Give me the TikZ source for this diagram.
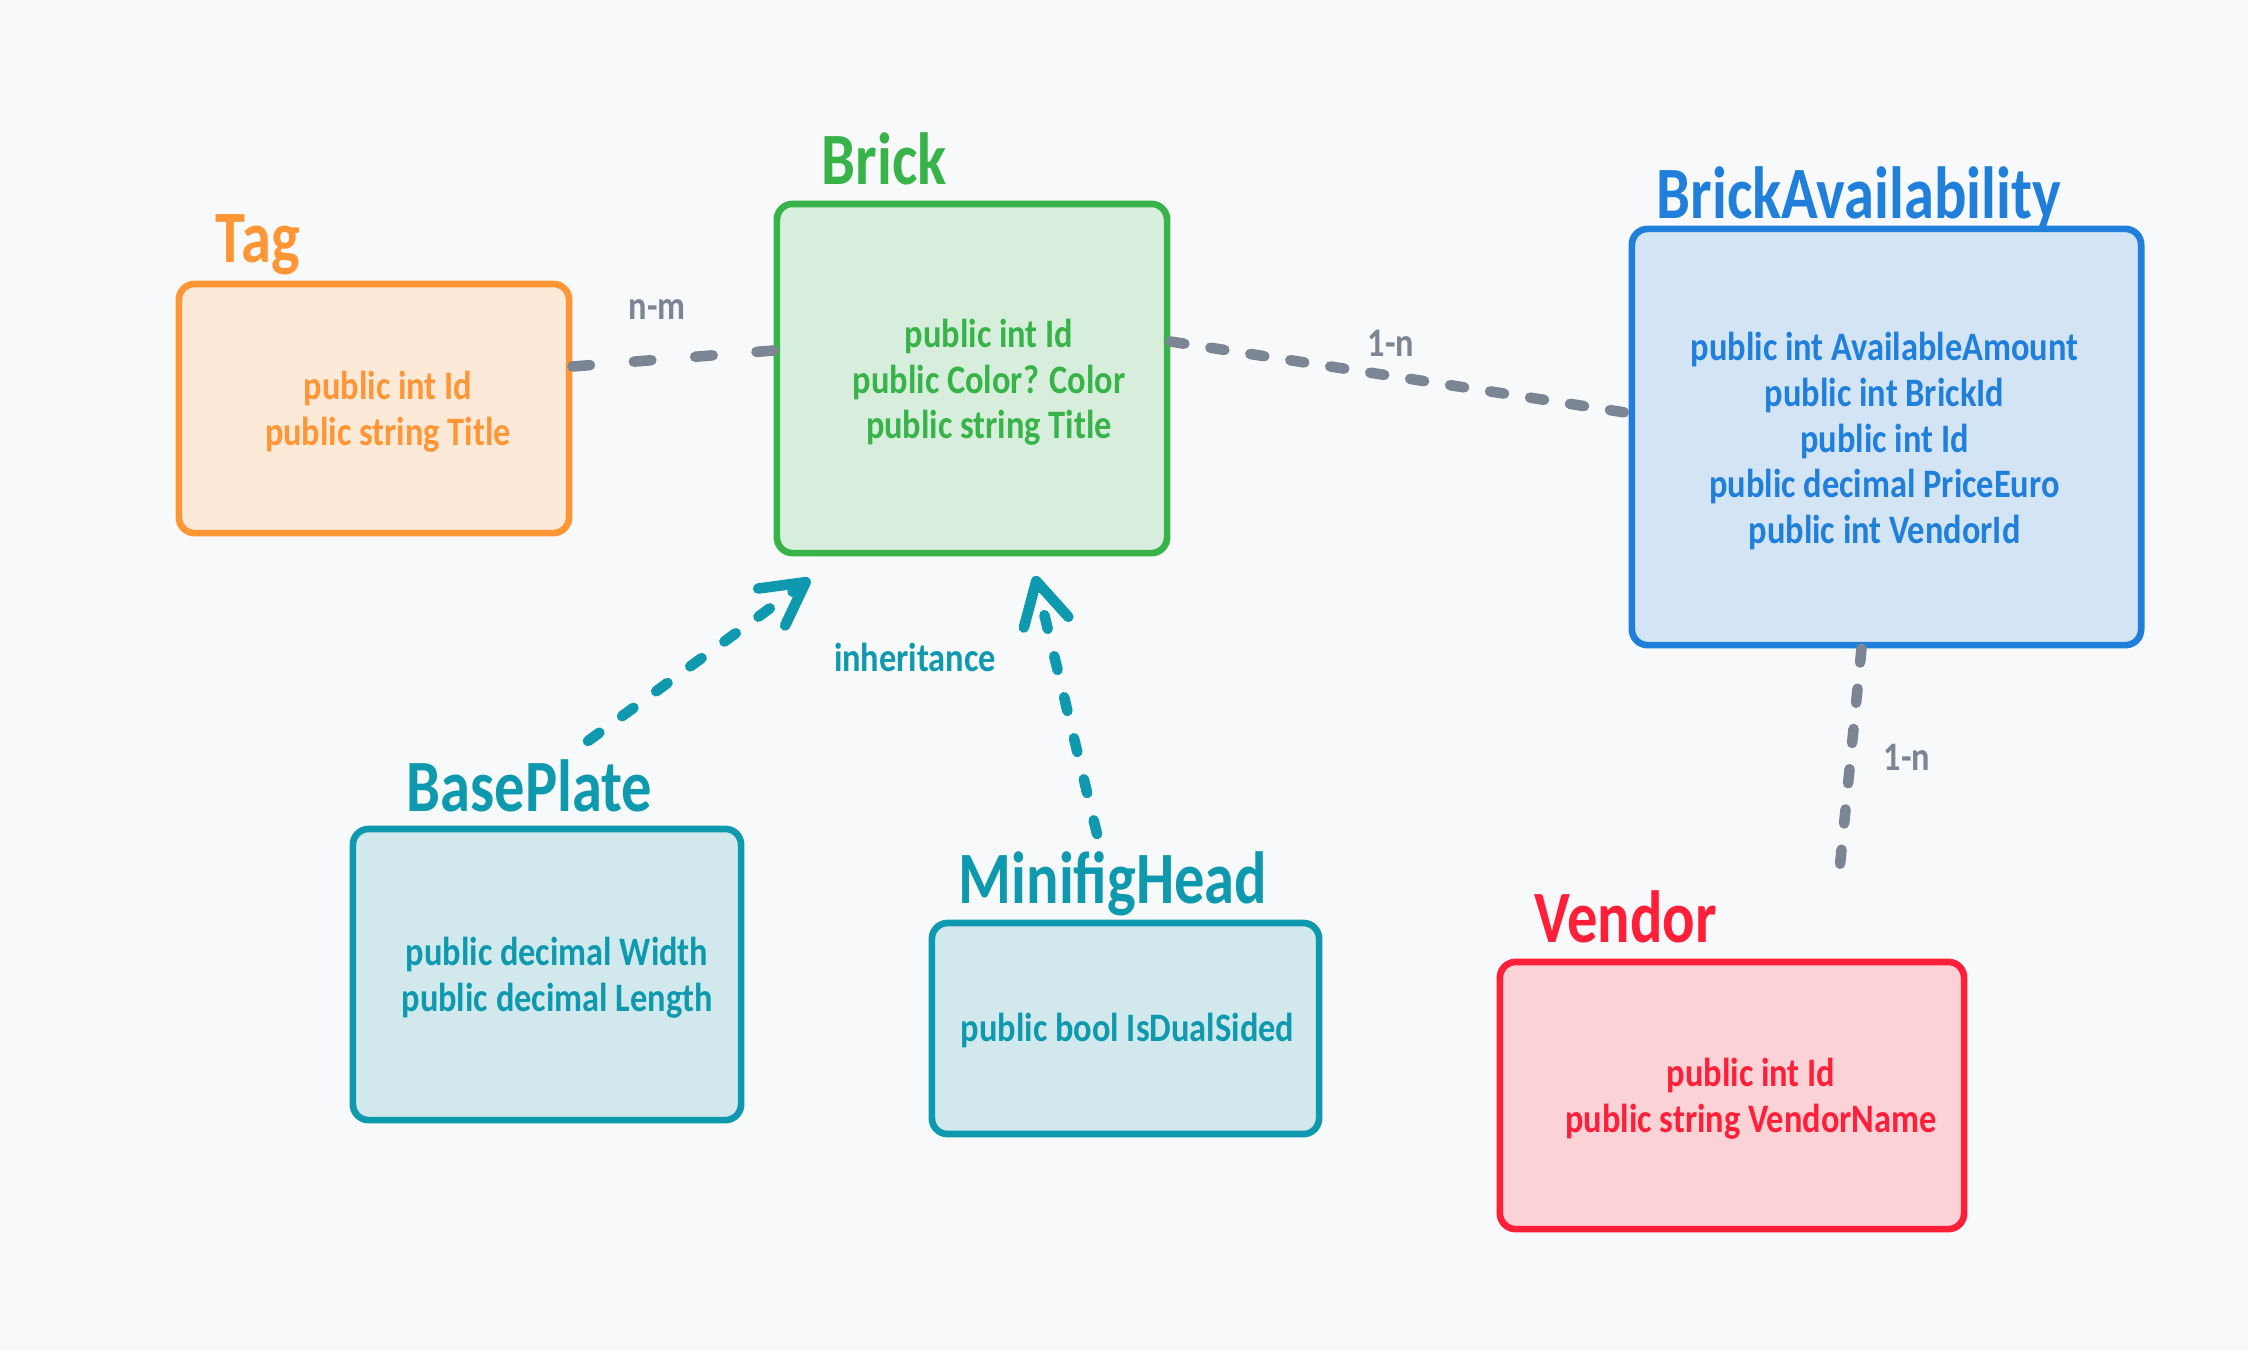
\documentclass[tikz,border=0pt]{standalone}
\usepackage{fontspec}
\setmainfont{Carlito}[FakeStretch=0.85]
\newfontfamily\titlefont{Carlito}[FakeStretch=0.82]
\usetikzlibrary{arrows.meta,calc}
\definecolor{bg}{HTML}{F8F9FA}
\definecolor{orangeS}{HTML}{FF9635}
\definecolor{orangeF}{HTML}{FDE9D8}
\definecolor{greenS}{HTML}{37B34A}
\definecolor{greenF}{HTML}{D8EEDC}
\definecolor{blueS}{HTML}{1F7FDB}
\definecolor{blueF}{HTML}{D3E4F4}
\definecolor{tealS}{HTML}{0F99AE}
\definecolor{tealF}{HTML}{D1E8EC}
\definecolor{redS}{HTML}{FF1F38}
\definecolor{redF}{HTML}{FBD3D7}
\definecolor{grayC}{HTML}{7B8594}
\tikzset{
  box/.style 2 args={draw=#1, fill=#2, line width=1.9pt, rounded corners=4.5pt, inner sep=0pt},
  boxtext/.style={text=#1, inner sep=0pt, align=center, font=\bfseries\fontsize{11.5}{13}\selectfont},
  ttl/.style={text=#1, anchor=base west, inner sep=0pt, font=\titlefont\bfseries\fontsize{21}{24}\selectfont},
  lbl/.style={text=#1, inner sep=0pt, font=\bfseries\fontsize{11.5}{13}\selectfont},
  conn/.style={draw=grayC, line width=3pt, line cap=round, dash pattern=on 4pt off 7.5pt},
  arr/.style={draw=tealS, line width=3pt, line cap=round, dash pattern=on 4pt off 8pt,
    -{Straight Barb[round, length=12pt, width=13pt]}}
}
\begin{document}
\begin{tikzpicture}[x=0.01cm,y=-0.01cm]
\fill[bg] (0,0) rectangle (2248,1350);
\useasboundingbox (0,0) rectangle (2248,1350);

% boxes
\node[box={orangeS}{orangeF}, minimum width=3.90cm, minimum height=2.49cm] (tag) at (374,408.5) {};
\node[box={greenS}{greenF}, minimum width=3.90cm, minimum height=3.49cm] (brick) at (972,378.5) {};
\node[box={blueS}{blueF}, minimum width=5.09cm, minimum height=4.16cm] (ba) at (1886.5,437) {};
\node[box={tealS}{tealF}, minimum width=3.88cm, minimum height=2.91cm] (bp) at (547,974.5) {};
\node[box={tealS}{tealF}, minimum width=3.87cm, minimum height=2.11cm] (mh) at (1125.5,1028.5) {};
\node[box={redS}{redF}, minimum width=4.64cm, minimum height=2.67cm] (vendor) at (1732,1095.5) {};

% box contents
\node[boxtext=orangeS] (tagTxt) at ($(tag)+(14,3)$) {public int Id\\public string Title};
\node[boxtext=greenS] (brickTxt) at ($(brick)+(17,4)$) {public int Id\\public Color? Color\\public string Title};
\node[boxtext=blueS] (baTxt) at ($(ba)+(-2,4)$)
  {public int AvailableAmount\\public int BrickId\\public int Id\\public decimal PriceEuro\\public int VendorId};
\node[boxtext=tealS] (bpTxt) at ($(bp)+(10,3)$) {public decimal Width\\public decimal Length};
\node[boxtext=tealS] (mhTxt) at ($(mh)+(2,2)$) {public bool IsDualSided};
\node[boxtext=redS] (vendorTxt) at ($(vendor)+(19,3)$) {public int Id\\public string VendorName};

% titles
\node[ttl=orangeS] (tagT) at (215,262) {Tag};
\node[ttl=greenS] (brickT) at (821,184) {Brick};
\node[ttl=blueS] (baT) at (1656,218) {BrickAvailability};
\node[ttl=tealS] (bpT) at (406,811) {BasePlate};
\node[ttl=tealS] (mhT) at (958,903) {MinifigHead};
\node[ttl=redS] (vendorT) at (1534,942) {Vendor};

% connectors
\draw[conn, dash pattern=on 5pt off 12.5pt] ($(tag.east)+(0,-42)$) -- ($(brick.west)+(0,-28)$);
\draw[conn] ($(brick.east)+(0,-37)$) -- ($(ba.west)+(0,-24)$);
\coordinate (vEnd) at (1839,875);
\draw[conn] ($(ba.south)+(-25,0)$) -- (vEnd);

\coordinate (bpStart) at (588,741);
\coordinate (bpTip) at (810,579);
\coordinate (mhStart) at (1097,834);
\coordinate (mhTip) at (1035,576);
\draw[arr] (bpStart) -- (bpTip);
\draw[arr] (mhStart) -- (mhTip);

% labels
\node[lbl=grayC] (lnm) at (657,310) {n-m};
\node[lbl=grayC] (l1n) at (1391,343) {1-n};
\node[lbl=grayC] (l1n2) at (1907,757) {1-n};
\node[lbl=tealS] (linh) at (915,657) {inheritance};
\end{tikzpicture}
\end{document}
